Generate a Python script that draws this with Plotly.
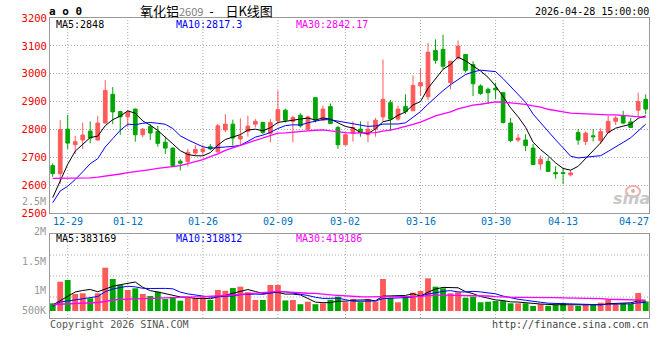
import plotly.graph_objects as go

# ---------------- data ----------------
dates = ["12-25", "12-26", "12-29", "12-30", "12-31",
         "01-05", "01-06", "01-07", "01-08", "01-09",
         "01-12", "01-13", "01-14", "01-15", "01-16",
         "01-19", "01-20", "01-21", "01-22", "01-23",
         "01-26", "01-27", "01-28", "01-29", "01-30",
         "02-02", "02-03", "02-04", "02-05", "02-06",
         "02-09", "02-10", "02-11", "02-12", "02-13",
         "02-24", "02-25", "02-26", "02-27",
         "03-02", "03-03", "03-04", "03-05", "03-06",
         "03-09", "03-10", "03-11", "03-12", "03-13",
         "03-16", "03-17", "03-18", "03-19", "03-20",
         "03-23", "03-24", "03-25", "03-26", "03-27",
         "03-30", "03-31", "04-01", "04-02", "04-03",
         "04-07", "04-08", "04-09", "04-10",
         "04-13", "04-14", "04-15", "04-16", "04-17",
         "04-20", "04-21", "04-22", "04-23", "04-24",
         "04-27", "04-28"]

open_ = [2670, 2641, 2801, 2745, 2762, 2794, 2762, 2823, 2926, 2864,
         2845, 2873, 2781, 2810, 2793, 2754, 2733, 2686, 2685, 2715,
         2720, 2738, 2720, 2798, 2819, 2766, 2793, 2819, 2825, 2786,
         2831, 2869, 2829, 2851, 2801, 2914, 2833, 2882, 2807, 2745,
         2787, 2801, 2781, 2801, 2845, 2896, 2837, 2882, 2867, 2956,
         2917, 3083, 3087, 2968, 3057, 3069, 3033, 2956, 2944, 2948,
         2932, 2823, 2762, 2762, 2733, 2676, 2685, 2645, 2645, 2637,
         2789, 2757, 2777, 2760, 2789, 2829, 2849, 2827, 2869, 2908]
high = [2678, 2833, 2852, 2777, 2825, 2829, 2849, 2977, 2952, 2867,
        2870, 2875, 2805, 2819, 2813, 2774, 2735, 2693, 2730, 2744,
        2745, 2748, 2820, 2855, 2835, 2840, 2849, 2837, 2828, 2837,
        2940, 2875, 2849, 2858, 2849, 2914, 2885, 2893, 2813, 2786,
        2829, 2829, 2829, 2841, 3051, 2905, 2885, 2926, 2994, 3019,
        3111, 3123, 3140, 3045, 3119, 3069, 3045, 2962, 2950, 2968,
        2935, 2841, 2783, 2783, 2748, 2706, 2698, 2668, 2662, 2653,
        2801, 2793, 2801, 2804, 2849, 2849, 2867, 2841, 2932, 2926]
low = [2630, 2605, 2730, 2712, 2730, 2750, 2760, 2821, 2819, 2781,
       2808, 2756, 2772, 2762, 2738, 2712, 2664, 2653, 2667, 2706,
       2708, 2725, 2715, 2790, 2742, 2742, 2774, 2807, 2783, 2754,
       2817, 2825, 2754, 2807, 2795, 2825, 2833, 2819, 2730, 2742,
       2756, 2774, 2754, 2774, 2831, 2795, 2831, 2855, 2867, 2920,
       2905, 3036, 3015, 2944, 3051, 3004, 2920, 2924, 2891, 2908,
       2821, 2754, 2754, 2722, 2674, 2655, 2647, 2623, 2603, 2631,
       2745, 2744, 2757, 2748, 2786, 2816, 2819, 2805, 2846, 2855]
close = [2642, 2799, 2751, 2756, 2780, 2769, 2823, 2940, 2863, 2845,
         2862, 2781, 2801, 2787, 2750, 2733, 2670, 2679, 2718, 2728,
         2730, 2730, 2813, 2819, 2769, 2776, 2812, 2829, 2789, 2825,
         2871, 2833, 2843, 2813, 2845, 2833, 2873, 2821, 2745, 2781,
         2807, 2789, 2801, 2833, 2908, 2837, 2873, 2864, 2958, 2968,
         3077, 3048, 3027, 3045, 3099, 3012, 2964, 2929, 2932, 2942,
         2825, 2760, 2769, 2742, 2674, 2693, 2649, 2641, 2642, 2644,
         2762, 2787, 2774, 2792, 2829, 2841, 2823, 2807, 2900, 2873]

volume = [296000, 1128000, 1194000, 655000, 681000, 489000, 681000, 1667000, 1232000, 1001000,
          809000, 874000, 655000, 578000, 743000, 462000, 527000, 397000, 527000, 481000,
          520000, 424000, 809000, 778000, 886000, 936000, 724000, 424000, 424000, 1001000,
          1001000, 408000, 424000, 262000, 358000, 262000, 296000, 435000, 551000, 339000,
          462000, 339000, 462000, 366000, 1232000, 512000, 335000, 551000, 705000, 770000,
          1259000, 936000, 874000, 681000, 720000, 512000, 551000, 335000, 358000, 385000,
          385000, 296000, 296000, 296000, 193000, 262000, 200000, 250000, 296000, 216000,
          200000, 231000, 231000, 320000, 424000, 270000, 296000, 270000, 693000, 366000]

# moving-average values before a full window exists
ma5_head = [2555, 2612, 2675, 2722]
ma10_head = [2537, 2579, 2596, 2620, 2648, 2677, 2695, 2737, 2767]
ma30_head = [2624, 2624, 2624, 2624, 2625, 2626, 2629, 2632, 2637, 2640,
             2645, 2648, 2652, 2656, 2660, 2663, 2665, 2670, 2677, 2684,
             2692, 2702, 2712, 2725, 2733, 2743, 2752, 2761, 2770]
vma5_head = [231000, 404000, 578000, 731000]
vma10_head = [173000, 347000, 385000, 424000, 462000, 512000, 558000, 743000, 847000]
vma30_head = [250000, 258000, 270000, 277000, 289000, 296000, 327000, 366000, 424000, 450000,
              462000, 470000, 481000, 489000, 501000, 508000, 520000, 527000, 539000, 547000,
              551000, 558000, 578000, 597000, 616000, 635000, 655000, 674000, 693000]

tick_dates = ["12-29", "01-12", "01-26", "02-09", "03-02", "03-16", "03-30", "04-13", "04-27"]
grid_dates = ["12-29", "01-12", "01-26", "02-09", "03-02", "03-16", "03-30", "04-13"]
price_ticks = [2500, 2600, 2700, 2800, 2900, 3000, 3100, 3200]
vol_tick_labels = ["2.5M", "2M", "1.5M", "1M", "500K"]

title_name = "氧化铝"
title_code = "2609"
title_rest = "\u00a0\u00a0-\u00a0\u00a0\u00a0\u00a0日K线图"
timestamp = "2026-04-28 15:00:00"
ma_legend = ["MA5:2848", "MA10:2817.3", "MA30:2842.17"]
vma_legend = ["MA5:383169", "MA10:318812", "MA30:419186"]


def moving_average(values, window, head):
    out = list(head)
    for i in range(len(head), len(values)):
        out.append(sum(values[i - window + 1:i + 1]) / window)
    return out


ma5 = moving_average(close, 5, ma5_head)
ma10 = moving_average(close, 10, ma10_head)
ma30 = moving_average(close, 30, ma30_head)
vma5 = moving_average(volume, 5, vma5_head)
vma10 = moving_average(volume, 10, vma10_head)
vma30 = moving_average(volume, 30, vma30_head)

# ---------------- styling ----------------
UP = "#FF5A5A"
DOWN = "#00A600"
MA_COLORS = ["#000000", "#0000FF", "#FF00FF"]
MA_WIDTHS = [1, 1, 1.3]
GRID = "#aaaaaa"
BORDER = "#999999"
MONO = "DejaVu Sans Mono"
CJK = "Noto Sans CJK SC"

W, H = 660, 360
OFF = 0                                # page body margin removed below (post_script)
SL, SR, ST, SB = 50, 649, 18, 318      # plotting area, screenshot pixels
MAIN_BOTTOM = 213
VOL_TOP = 234


def fx(x):
    return (x - SL) / (SR - SL)


def fy(y):
    return (SB - y) / (SB - ST)


vol_colors = [UP if c >= o else DOWN for o, c in zip(open_, close)]

fig = go.Figure()
fig.add_trace(go.Candlestick(
    x=dates, open=open_, high=high, low=low, close=close,
    increasing=dict(line=dict(color=UP, width=1), fillcolor=UP),
    decreasing=dict(line=dict(color=DOWN, width=1), fillcolor=DOWN),
    whiskerwidth=0, xaxis="x", yaxis="y", name="K"))
for series, col, lw in zip([ma5, ma10, ma30], MA_COLORS, MA_WIDTHS):
    fig.add_trace(go.Scatter(x=dates, y=series, mode="lines",
                             line=dict(color=col, width=lw), xaxis="x", yaxis="y",
                             hoverinfo="skip"))
fig.add_trace(go.Bar(x=dates, y=volume, marker=dict(color=vol_colors, line=dict(width=0)),
                     xaxis="x2", yaxis="y2"))
for series, col, lw in zip([vma5, vma10, vma30], MA_COLORS, MA_WIDTHS):
    fig.add_trace(go.Scatter(x=dates, y=series, mode="lines",
                             line=dict(color=col, width=lw), xaxis="x2", yaxis="y2",
                             hoverinfo="skip"))

n = len(dates)
xrange = [-0.36, n - 1 + 0.44]

fig.update_layout(
    width=W, height=H,
    margin=dict(l=SL - OFF, r=W - (SR - OFF), t=ST - OFF, b=H - (SB - OFF), pad=0),
    paper_bgcolor="white", plot_bgcolor="white",
    showlegend=False, bargap=0.22, boxgap=0.3,
    xaxis=dict(type="category", categoryorder="array", categoryarray=dates,
               range=xrange, domain=[0, 1], anchor="y",
               showticklabels=False, showgrid=False, ticks="",
               showline=True, linecolor=BORDER, linewidth=1, mirror=True,
               zeroline=False, rangeslider=dict(visible=False)),
    yaxis=dict(domain=[fy(MAIN_BOTTOM), 1], range=[price_ticks[0], price_ticks[-1]],
               tickmode="array", tickvals=price_ticks, ticktext=[str(v) for v in price_ticks],
               showgrid=True, gridcolor=GRID, griddash="1px,2px", gridwidth=1,
               tickfont=dict(family=MONO, size=10.5, color="#EE0000"), ticks="",
               showline=True, linecolor=BORDER, linewidth=1, mirror=True, zeroline=False),
    xaxis2=dict(type="category", categoryorder="array", categoryarray=dates,
                range=xrange, domain=[0, 1], anchor="y2", matches="x",
                showticklabels=False, showgrid=False, ticks="",
                showline=True, linecolor=BORDER, linewidth=1, mirror=True, zeroline=False),
    yaxis2=dict(domain=[0, fy(VOL_TOP)], range=[-269500, 2964500],
                showticklabels=False, showgrid=False, ticks="",
                showline=True, linecolor=BORDER, linewidth=1, mirror=True, zeroline=False),
)

# dotted vertical grid lines at the labelled dates
for d in grid_dates:
    i = dates.index(d)
    for xr, yr in (("x", "y domain"), ("x2", "y2 domain")):
        fig.add_shape(type="line", xref=xr, yref=yr, x0=i, x1=i, y0=0, y1=1,
                      line=dict(color=GRID, width=1, dash="1px,2px"), layer="below")
# dotted horizontal grid lines in the volume panel
for f in (0.25, 0.5, 0.75):
    fig.add_shape(type="line", xref="x2 domain", yref="y2 domain", x0=0, x1=1, y0=f, y1=f,
                  line=dict(color=GRID, width=1, dash="1px,2px"), layer="below")


def note(text, x, y, anchor="left", color="#000000", size=10, family=MONO, xref="paper", **kw):
    fig.add_annotation(text=text, xref=xref, yref="paper",
                       x=fx(x) if xref == "paper" else x, y=fy(y),
                       xanchor=anchor, yanchor="middle", showarrow=False, borderpad=0,
                       font=dict(family=family, size=size, color=color), **kw)


# date labels under the price panel
for d in tick_dates[:-1]:
    note(d, dates.index(d), 222, anchor="center", color="#0070C0", xref="x")
note(tick_dates[-1], SR + 1, 222, anchor="right", color="#0070C0")

note("<b>a o 0</b>", 48, 12, size=11)
note(title_name + '<span style="color:#808080;font-size:11px">' + title_code + "</span>"
     + title_rest, 139, 10, size=13, family=CJK)
note(timestamp, SR + 1, 12, anchor="right", size=10)
for txt, x, col in zip(ma_legend, (55, 175, 295), MA_COLORS):
    note(txt, x, 25, color=col)
for txt, x, col in zip(vma_legend, (55, 175, 295), MA_COLORS):
    note(txt, x, 238, color=col)
for txt, y in zip(vol_tick_labels, (201, 231, 261, 290, 310)):
    note(txt, 47, y, anchor="right", color="#999999")
note("Copyright 2026 SINA.COM", 49, 324, color="#555555")
note("http://finance.sina.com.cn", SR + 1, 324, anchor="right", color="#444444")

# sina watermark: eye logo as shapes, word as text
fig.add_shape(type="circle", xref="paper", yref="paper",
              x0=fx(626), x1=fx(640), y0=fy(197), y1=fy(186),
              line=dict(color="#f2b0b0", width=2), fillcolor="rgba(0,0,0,0)")
fig.add_shape(type="circle", xref="paper", yref="paper",
              x0=fx(631), x1=fx(635), y0=fy(193), y1=fy(189),
              line=dict(width=0), fillcolor="#d9b0b0")
note("<b><i>sina</i></b>", 651, 199, anchor="right", color="#c8c8c8", size=16, family="DejaVu Sans")

fig.write_html("out.html", config={"displayModeBar": False},
               post_script="document.body.style.margin='0';")
